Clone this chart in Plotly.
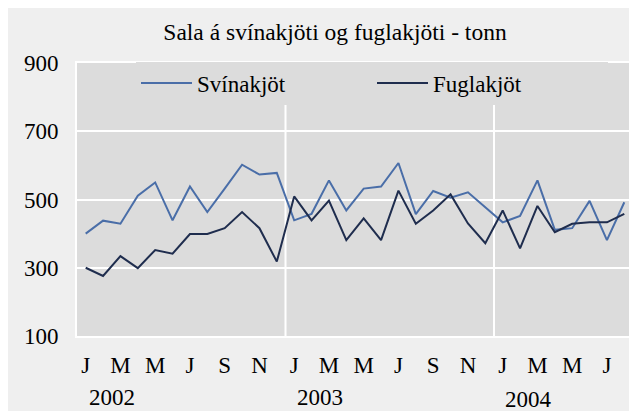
import plotly.graph_objects as go

months = ["Jan 2002","Feb 2002","Mar 2002","Apr 2002","May 2002","Jun 2002","Jul 2002","Aug 2002",
          "Sep 2002","Oct 2002","Nov 2002","Dec 2002",
          "Jan 2003","Feb 2003","Mar 2003","Apr 2003","May 2003","Jun 2003","Jul 2003","Aug 2003",
          "Sep 2003","Oct 2003","Nov 2003","Dec 2003",
          "Jan 2004","Feb 2004","Mar 2004","Apr 2004","May 2004","Jun 2004","Jul 2004","Aug 2004"]
svinakjot = [400, 438, 429, 511, 550, 439, 538, 463, 532, 602, 573, 578,
             439, 458, 556, 468, 532, 538, 607, 457, 525, 505, 521, 476,
             433, 452, 556, 411, 416, 496, 381, 492]
fuglakjot = [300, 276, 334, 299, 352, 341, 399, 399, 416, 463, 416, 318,
             509, 439, 497, 381, 445, 381, 526, 429, 468, 515, 430, 372,
             468, 357, 481, 404, 429, 433, 433, 458]
tick_labels = ["J", "M", "M", "J", "S", "N"] * 2 + ["J", "M", "M", "J"]
years = ["2002", "2003", "2004"]
y_ticks = [100, 300, 500, 700, 900]

FONT = "Liberation Serif, Times New Roman, serif"
PAPER = "#efefef"
PLOT = "#dcdcdc"

# figure is placed in the page with the default 8px body margin
W, H = 627, 403
ML, MR, MT, MB = 69, 2, 55, 75
PW, PH = W - ML - MR, H - MT - MB


def px_x(p):
    return (p - ML) / PW


def px_y(p):
    return (H - MB - p) / PH


x = list(range(len(months)))
fig = go.Figure()
fig.add_trace(go.Scatter(x=x, y=svinakjot, mode="lines", name="Svínakjöt",
                         line=dict(color="#4a6ea8", width=2), customdata=months))
fig.add_trace(go.Scatter(x=x, y=fuglakjot, mode="lines", name="Fuglakjöt",
                         line=dict(color="#1f2d4e", width=2), customdata=months))

shapes = []
annotations = []
# year separators and year labels
for yr in years:
    idx = [i for i, m in enumerate(months) if m.endswith(yr)]
    if idx[0] > 0:
        shapes.append(dict(type="line", xref="x", yref="y", x0=idx[0] - 0.5, x1=idx[0] - 0.5,
                           y0=y_ticks[0], y1=y_ticks[-1], line=dict(color="white", width=2),
                           layer="below"))
    annotations.append(dict(text=yr, xref="x", yref="paper", x=idx[0] + 1.5,
                            y=px_y(389 if yr != "2004" else 391), yanchor="middle",
                            showarrow=False, font=dict(family=FONT, size=23, color="black")))

fig.update_layout(
    width=W, height=H,
    margin=dict(l=ML, r=MR, t=MT, b=MB),
    paper_bgcolor=PAPER, plot_bgcolor=PLOT,
    font=dict(family=FONT, size=23, color="black"),
    title=dict(text="Sala á svínakjöti og fuglakjöti - tonn", x=327 / W, xanchor="center",
               y=1 - 24 / H, yanchor="middle", yref="container",
               font=dict(family=FONT, size=23.5, color="black")),
    showlegend=True,
    legend=dict(orientation="h", x=px_x(128), xanchor="left", y=px_y(75), yanchor="middle",
                bgcolor=PLOT, borderwidth=0, entrywidth=170, itemwidth=51,
                font=dict(family=FONT, size=23, color="black")),
    shapes=shapes, annotations=annotations,
)
fig.update_xaxes(range=[-0.5, len(months) - 0.5], tickmode="array",
                 tickvals=x[::2], ticktext=tick_labels, showgrid=False, zeroline=False,
                 showline=True, mirror=True, linecolor="white", linewidth=2,
                 ticks="", ticklabelstandoff=7, tickangle=0, automargin=False)
fig.update_yaxes(range=[y_ticks[0], y_ticks[-1]], tickmode="array", tickvals=y_ticks,
                 showgrid=True, gridcolor="white", gridwidth=2, zeroline=False,
                 showline=True, mirror=True, linecolor="white", linewidth=2,
                 ticks="", ticklabelstandoff=12, automargin=False)

fig.write_html("out.html")
